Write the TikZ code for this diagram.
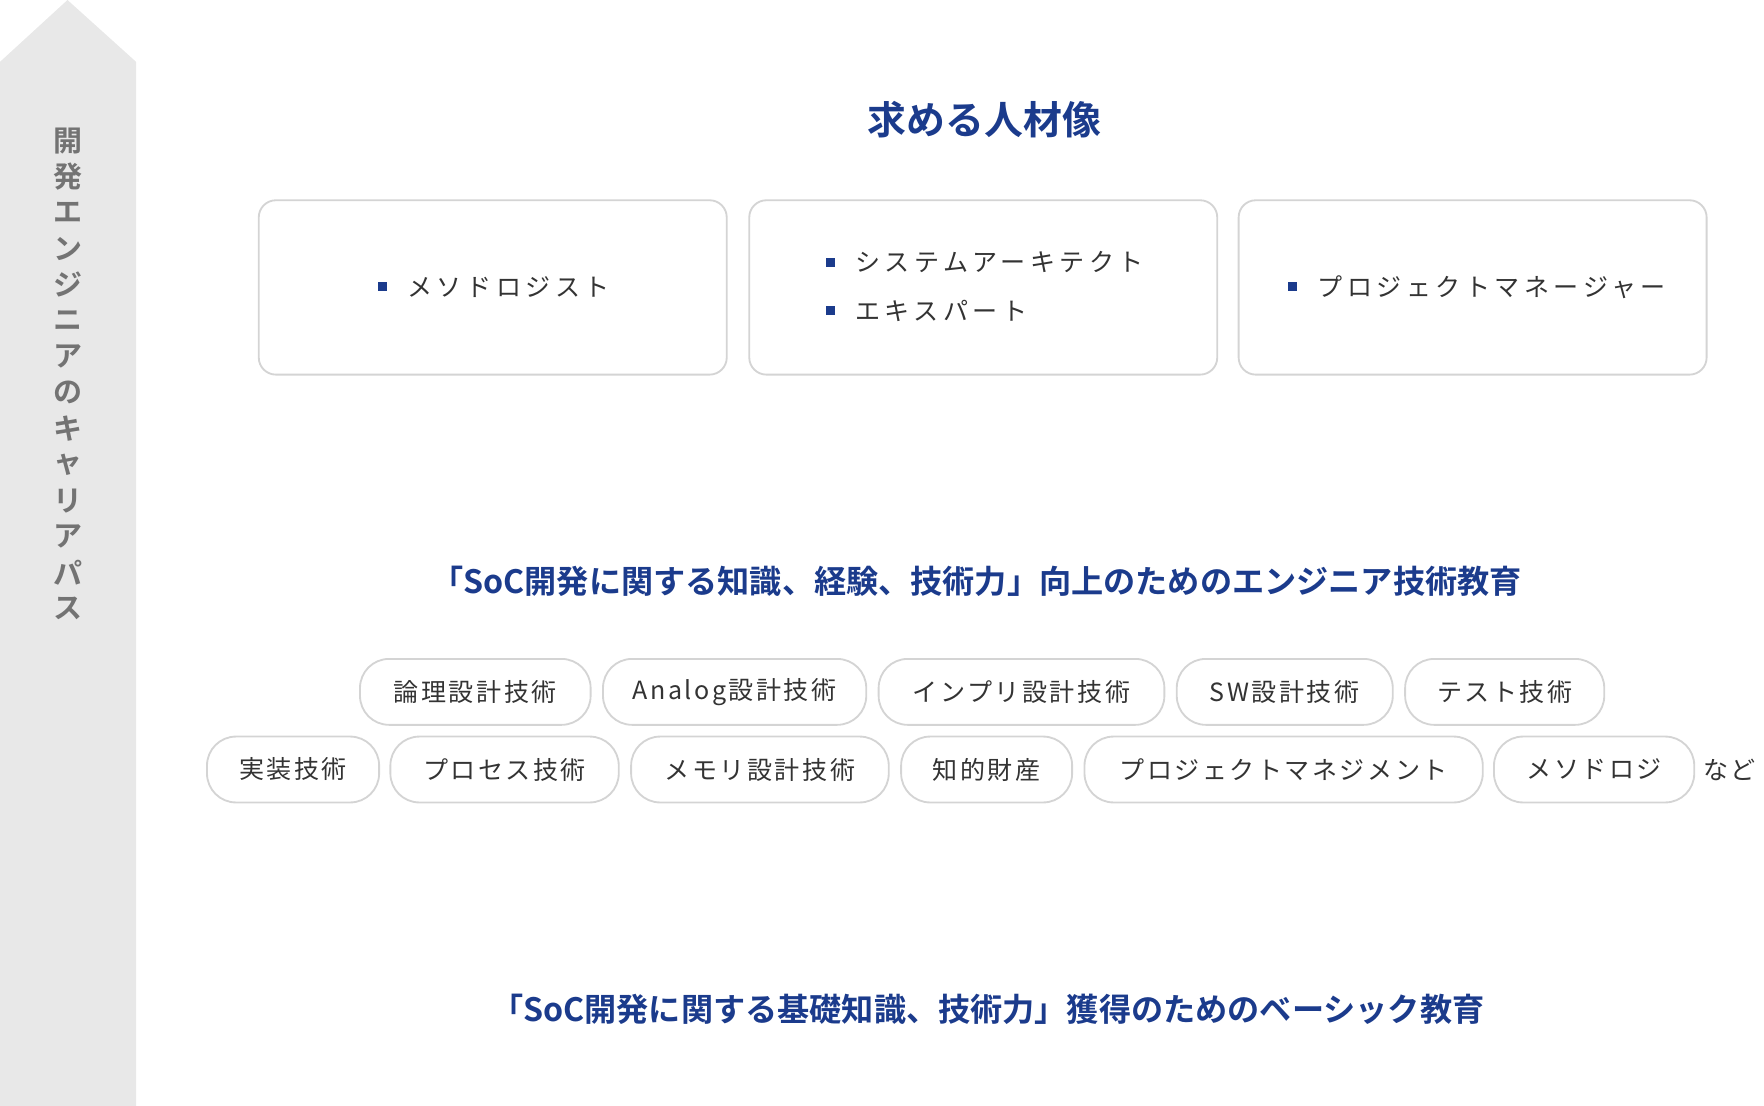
\documentclass[tikz,border=0pt]{standalone}
\usepackage{fontspec}
\setmainfont{Noto Sans CJK JP}
\newfontfamily\boldjp{Noto Sans CJK JP Bold}
\newfontfamily\widejp[LetterSpace=10]{Noto Sans CJK JP}
\newfontfamily\widerjp[LetterSpace=18]{Noto Sans CJK JP}
\definecolor{navy}{HTML}{1B3B8C}
\definecolor{paleGray}{HTML}{E8E8E8}
\definecolor{lineGray}{HTML}{D4D4D4}
\definecolor{textGray}{HTML}{333333}
\tikzset{
  card/.style={draw=lineGray, line width=1.4pt, rounded corners=13pt, fill=white},
  pill/.style={draw=lineGray, line width=1.4pt, rounded corners=22pt, minimum height=50pt, inner sep=0pt, text=textGray, font=\widejp\fontsize{19}{21}\selectfont},
  heading/.style={text=navy, font=\boldjp\fontsize{24.4}{27}\selectfont},
  item/.style={text=textGray, font=\widerjp\fontsize{19}{21}\selectfont, anchor=west},
  bullet/.style={fill=navy, minimum size=7, inner sep=0pt}
}
\begin{document}
\begin{tikzpicture}[x=0.03cm, y=-0.03cm]
    \useasboundingbox (0,0) rectangle (1568,983);
    % Career arrow
    \fill[paleGray] (0,55) -- (60,0) -- (121,55) -- (121,983) -- (0,983) -- cycle;
    \foreach \c [count=\k] in {開,発,エ,ン,ジ,ニ,ア,の,キ,ャ,リ,ア,パ,ス} {
            \node[text=gray!90!black, font=\boldjp\fontsize{22}{24}\selectfont] (side\k) at (60, {125+(\k-1)*32}) {\c};
        }
    % Title and cards
    \node[heading, font=\boldjp\fontsize{29.5}{32}\selectfont] (title) at (875,106) {求める人材像};
    \draw[card] (230,178) rectangle (646,333);
    \draw[card] (666,178) rectangle (1082,333);
    \draw[card] (1101,178) rectangle (1517,333);
    \node[bullet] (b1) at (340,255) {};
    \node[item] (m1) at (358,255) {メソドロジスト};
    \node[bullet] (b2) at (738,233) {};
    \node[item] (m2) at (756,233) {システムアーキテクト};
    \node[bullet] (b3) at (738,276) {};
    \node[item] (m3) at (756,276) {エキスパート};
    \node[bullet] (b4) at (1149,255) {};
    \node[item] (m4) at (1167,255) {プロジェクトマネージャー};
    % Engineer education
    \node[heading] (edu) at (868,517) {「SoC開発に関する知識、経験、技術力」向上のためのエンジニア技術教育};
    \foreach \l/\r/\t in {320/525/論理設計技術, 536/770/Analog設計技術, 781/1035/インプリ設計技術, 1046/1238/SW設計技術, 1249/1426/テスト技術} {
            \node[pill, minimum width={(\r-\l)*0.03cm}] (p\l) at ({(\l+\r)/2}, 615) {\t};
        }
    \foreach \l/\r/\t in {184/337/実装技術, 347/550/プロセス技術, 561/790/メモリ設計技術, 801/953/知的財産, 964/1318/プロジェクトマネジメント, 1328/1506/メソドロジ} {
            \node[pill, minimum width={(\r-\l)*0.03cm}] (q\l) at ({(\l+\r)/2}, 684) {\t};
        }
    \node[item, font=\widejp\fontsize{19}{21}\selectfont] (etc) at (1510,684) {など};
    % Basic education
    \node[heading] (basic) at (878,897) {「SoC開発に関する基礎知識、技術力」獲得のためのベーシック教育};
\end{tikzpicture}
\end{document}
